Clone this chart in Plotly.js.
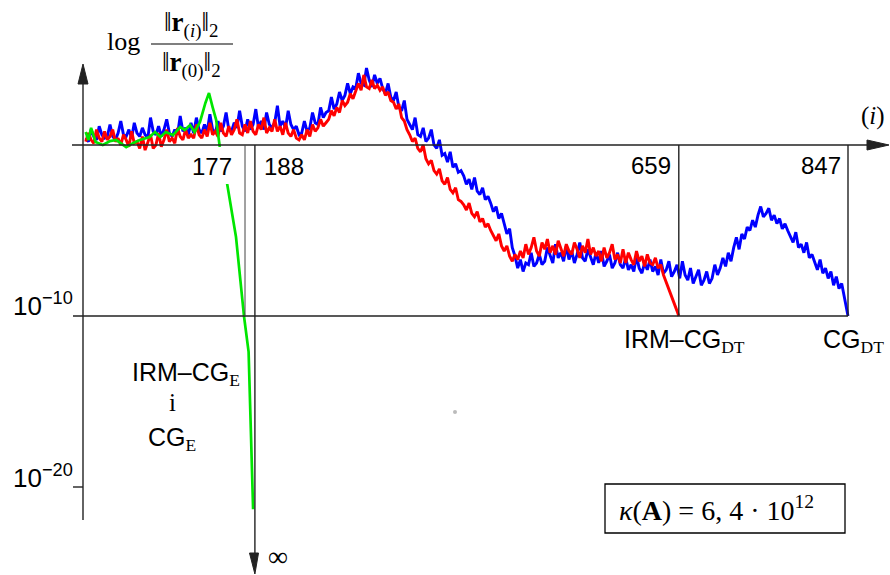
<!DOCTYPE html>
<html><head><meta charset="utf-8">
<script src="https://cdn.plot.ly/plotly-3.0.1.min.js"></script>
<style>body{margin:0;background:#fff}#chart{width:890px;height:575px}</style>
</head><body><div id="chart"></div>
<script>
// ---- data: log10 of relative residual, sampled every 3 iterations ----
const sampleStep = 3;
const blueName = "CG_DT";
const blueLog = [
 0.4, 0.2, 0.9, 0.5, 0.3, 1.1, 0.6, 0.4, 0.5, 1.2,
 0.5, 0.3, 0.7, 1.4, 0.6, 0.5, 0.9, 0.4, 1.3, 0.7,
 0.5, 1.0, 0.6, 0.4, 1.6, 0.8, 0.6, 1.1, 0.5, 0.9,
 1.5, 0.7, 0.5, 0.9, 0.6, 1.7, 0.8, 1.0, 0.6, 1.3,
 0.7, 1.6, 0.9, 0.7, 1.2, 0.8, 1.8, 0.9, 0.7, 1.4,
 0.8, 1.1, 1.9, 0.9, 0.8, 1.3, 1.0, 2.0, 1.1, 0.8,
 1.5, 0.9, 1.2, 2.1, 1.0, 1.4, 0.9, 1.9, 1.2, 1.0,
 1.3, 2.3, 1.1, 1.4, 1.0, 2.0, 1.2, 0.9, 1.1, 0.6,
 0.7, 1.4, 0.8, 1.0, 1.9, 1.3, 1.2, 2.2, 1.6, 1.9,
 2.0, 2.8, 2.1, 2.4, 3.1, 2.6, 2.9, 3.6, 3.0, 3.4,
 3.3, 4.2, 3.6, 3.5, 4.5, 3.8, 3.4, 4.1, 3.6, 3.9,
 3.3, 3.0, 3.6, 2.8, 2.6, 3.1, 2.2, 2.0, 2.6, 1.5,
 1.2, 0.9, 1.6, 0.6, 0.5, 1.0, 0.2, 0.4, 0.9, 0.0,
 -0.2, 0.3, -0.6, -0.5, -1.0, -0.4, -1.3, -1.1, -1.6, -1.5,
 -1.8, -2.3, -2.0, -2.6, -1.9, -2.7, -2.9, -2.5, -3.2, -3.0,
 -3.4, -3.9, -3.6, -4.3, -4.0, -4.6, -5.2, -4.9, -6.0, -6.5,
 -7.2, -6.7, -7.4, -6.9, -7.0, -6.3, -7.1, -6.9, -6.4, -7.0,
 -6.8, -6.0, -6.5, -6.9, -5.8, -6.6, -6.3, -6.8, -5.9, -6.7,
 -6.2, -6.9, -6.4, -5.7, -6.6, -6.8, -6.1, -6.5, -7.0, -6.3,
 -6.9, -6.2, -7.1, -6.8, -6.4, -7.2, -6.9, -6.3, -7.0, -7.2,
 -6.6, -7.3, -7.0, -7.4, -6.5, -7.2, -7.5, -6.9, -7.3, -6.7,
 -7.4, -7.1, -7.6, -6.7, -7.5, -7.3, -6.8, -7.7, -7.4, -7.0,
 -7.8, -6.8, -7.6, -7.9, -7.2, -8.1, -7.7, -7.3, -8.2, -7.9,
 -7.4, -8.1, -7.8, -7.0, -7.6, -7.2, -6.6, -7.1, -6.3, -6.8,
 -6.0, -5.4, -6.1, -5.2, -5.5, -4.8, -5.0, -4.4, -4.8, -4.1,
 -3.6, -4.2, -4.0, -3.7, -4.4, -4.1, -4.6, -4.3, -4.9, -4.6,
 -5.0, -5.4, -5.7, -5.1, -6.0, -5.8, -6.3, -5.7, -6.6, -6.4,
 -6.8, -7.3, -6.7, -7.5, -7.2, -7.8, -7.4, -8.2, -7.7, -8.4,
 -8.1, -8.9
];
const blueLastIter = 847, blueLastLog = -10.0;

const redName = "IRM-CG_DT";
const redLog = [
 0.2, 0.7, 0.3, 0.1, 0.9, 0.4, 0.2, 0.8, 0.3, 0.5,
 0.9, 0.2, 0.4, 0.0, 0.6, 0.3, -0.1, 0.8, 0.1, 0.2,
 -0.2, 0.5, -0.3, 0.1, 0.6, -0.2, 0.0, 0.7, -0.1, 0.3,
 0.9, 0.2, 0.4, 0.1, 1.0, 0.5, 0.3, 0.9, 0.4, 0.6,
 0.4, 1.2, 0.6, 0.4, 0.9, 0.5, 1.3, 0.6, 0.8, 0.5,
 1.3, 0.7, 0.5, 1.1, 0.6, 0.9, 1.5, 0.7, 0.6, 1.2,
 0.7, 1.4, 0.8, 0.6, 1.2, 0.9, 1.6, 0.7, 1.0, 0.8,
 1.5, 0.8, 1.1, 0.6, 1.3, 0.7, 0.5, 0.9, 0.4, 0.3,
 0.6, 0.3, 0.9, 0.5, 1.2, 0.8, 1.0, 1.5, 1.1, 1.3,
 1.5, 2.0, 1.7, 2.2, 1.9, 2.6, 2.3, 2.5, 3.0, 2.7,
 3.1, 3.6, 3.2, 4.1, 3.4, 3.3, 3.8, 3.3, 3.5, 3.2,
 3.4, 2.9, 3.1, 2.6, 2.5, 2.1, 2.4, 1.6, 1.4, 0.9,
 0.6, 0.2, 0.4, -0.2, -0.4, 0.0, -0.8, -1.1, -0.9, -1.5,
 -1.7, -1.4, -2.1, -2.3, -1.9, -2.6, -2.8, -2.5, -3.2, -3.3,
 -3.5, -3.8, -3.4, -4.0, -4.2, -3.9, -4.5, -4.3, -4.8, -4.6,
 -5.0, -5.3, -5.6, -5.2, -5.9, -6.2, -5.9, -6.5, -6.8, -6.4,
 -6.7, -6.2, -6.6, -5.8, -6.4, -6.0, -5.4, -6.2, -6.5, -5.7,
 -6.1, -5.5, -6.3, -5.9, -6.4, -5.6, -6.0, -6.5, -5.8, -6.2,
 -6.4, -5.7, -6.1, -6.6, -5.9, -6.3, -5.5, -6.4, -6.0, -6.5,
 -6.2, -6.8, -6.0, -6.6, -6.3, -5.8, -6.7, -6.4, -6.9, -6.1,
 -6.9, -6.3, -6.7, -7.0, -6.2, -6.8, -6.5, -7.1, -6.4, -6.9,
 -7.0, -6.6, -7.2, -7.0, -7.6, -8.0, -8.4, -8.8, -9.2, -9.7
];
const redLastIter = 659, redLastLog = -10.0;

const greenName = "IRM-CG_E / CG_E";
const greenIter = [0, 3, 6, 11, 19, 27, 34, 45, 53, 60, 71, 77, 83, 89, 97, 105, 110, 116, 121, 127, 133, 137, 141, 145, 149, 157, 167, 176, 181, 186];
const greenLog  = [0.76, 0.29, 1.0, 0.18, 0.0, 0.23, 0.29, -0.12, 0.12, 0.29, 0.47, 0.76, 0.47, 0.76, 0.58, 1.05, 0.88, 1.17, 0.76, 1.35, 2.46, 3.04, 2.22, 1.46, -0.12, -2.22, -5.38, -10.06, -12.1, -21.3];

const markIters = [177, 188, 659, 847];
const markLabels = ["177", "188", "659", "847"];
const yTickLogs = [-10, -20];
const yTickLabels = ["10<sup>−10</sup>", "10<sup>−20</sup>"];

// ---- build series ----
function series(vals, lastIter, lastVal) {
  const x = vals.map((_, k) => k * sampleStep);
  x.push(lastIter);
  return {x: x, y: vals.concat([lastVal])};
}
const blue = series(blueLog, blueLastIter, blueLastLog);
const red = series(redLog, redLastIter, redLastLog);

const traces = [
  {x: blue.x, y: blue.y, name: blueName, type: "scatter", mode: "lines",
   line: {color: "#0000ff", width: 2.9}},
  {x: red.x, y: red.y, name: redName, type: "scatter", mode: "lines",
   line: {color: "#ff0000", width: 2.9}},
  {x: greenIter, y: greenLog, name: greenName, type: "scatter", mode: "lines",
   line: {color: "#00e600", width: 2.7}}
];

// ---- layout geometry (pixels -> axis coordinates) ----
const W = 890, H = 575;
const X0PX = 85.7, PXPERIT = 0.9, Y0PX = 145, PXPERDEC = 17.1;
const xr = [(0 - X0PX) / PXPERIT, (W - X0PX) / PXPERIT];
const yr = [(Y0PX - H) / PXPERDEC, Y0PX / PXPERDEC];
const itOf = px => (px - X0PX) / PXPERIT;
const decOf = py => (Y0PX - py) / PXPERDEC;
const PX = x => x / W, PY = y => 1 - y / H;

const AX = "#222";
const shapes = [];
function dline(x0, y0, x1, y1, color, width) {
  shapes.push({type: "line", xref: "x", yref: "y", x0: x0, y0: y0, x1: x1, y1: y1,
    line: {color: color || AX, width: width || 1.4}, layer: "above"});
}
function tri(pts) {
  shapes.push({type: "path", xref: "x", yref: "y", layer: "above",
    path: "M" + pts.map(p => p[0] + "," + p[1]).join(" L") + " Z",
    fillcolor: AX, line: {color: AX, width: 1}});
}
// white label box behind "177"
shapes.push({type: "rect", xref: "paper", yref: "paper", x0: PX(188), x1: PX(244), y0: PY(184), y1: PY(147),
  fillcolor: "#ffffff", line: {width: 0}, layer: "above"});

const yAxX = itOf(83);
// vertical axis
dline(yAxX, decOf(520), yAxX, decOf(80));
tri([[itOf(78), decOf(84)], [yAxX, decOf(64)], [itOf(88), decOf(84)]]);
// horizontal axis
dline(itOf(72), 0, itOf(870), 0);
tri([[itOf(867), decOf(140)], [itOf(889), 0], [itOf(867), decOf(150)]]);
// 10^-10 line and 10^-20 tick
dline(itOf(73), yTickLogs[0], markIters[3], yTickLogs[0]);
dline(itOf(73), yTickLogs[1], yAxX, yTickLogs[1]);
// iteration markers
dline(markIters[0], 0, markIters[0], -10, "#444", 1);
dline(markIters[1], 0, markIters[1], decOf(556));
tri([[itOf(249.5), decOf(553)], [markIters[1], decOf(574)], [itOf(258.5), decOf(553)]]);
dline(markIters[2], 0, markIters[2], -10);
dline(markIters[3], 0, markIters[3], -10);
// fraction bar
shapes.push({type: "line", xref: "paper", yref: "paper", x0: PX(151), x1: PX(233), y0: PY(44), y1: PY(44),
  line: {color: "#000", width: 1.2}});
// kappa box
shapes.push({type: "rect", xref: "paper", yref: "paper", x0: PX(605), x1: PX(845), y0: PY(533), y1: PY(484),
  line: {color: "#000", width: 1.3}, fillcolor: "rgba(0,0,0,0)"});
// tiny grey speck
shapes.push({type: "circle", xref: "paper", yref: "paper", x0: PX(453), x1: PX(457), y0: PY(414), y1: PY(410),
  fillcolor: "#bbb", line: {width: 0}});

const SANS = "Liberation Sans, Arial, sans-serif";
const SERIF = "Liberation Serif, Times New Roman, serif";
const ann = [];
function T(text, x, y, xa, size, fam) {
  ann.push({text: text, xref: "paper", yref: "paper", x: PX(x), y: PY(y), xanchor: xa || "center",
    yanchor: "middle", showarrow: false, font: {family: fam || SANS, size: size || 24, color: "#000"}});
}
const ser = s => "<span style='font-family:Liberation Serif, serif'>" + s + "</span>";

T("log", 124, 42, "center", 26, SERIF);
T("‖<b>r</b><sub>(<i>i</i>)</sub>‖<sub>2</sub>", 191, 24, "center", 27, SERIF);
T("‖<b>r</b><sub>(0)</sub>‖<sub>2</sub>", 191, 64, "center", 27, SERIF);
T("(<i>i</i>)", 873, 116, "center", 25, SERIF);

T(markLabels[0], 234, 166, "right", 24);
T(markLabels[1], 262, 166, "left", 24);
T(markLabels[2], 673, 165, "right", 24);
T(markLabels[3], 843, 165, "right", 24);

T(yTickLabels[0], 75, 304, "right", 26);
T(yTickLabels[1], 75, 476, "right", 26);

T("IRM–CG<sub>" + ser("E") + "</sub>", 186, 374, "center", 25);
T("i", 172, 402, "center", 25, SERIF);
T("CG<sub>" + ser("E") + "</sub>", 172, 439, "center", 25);
T("IRM–CG<sub>" + ser("DT") + "</sub>", 684, 341, "center", 25);
T("CG<sub>" + ser("DT") + "</sub>", 853, 341, "center", 25);
T("∞", 278, 556, "center", 28, SERIF);
T("<i>κ</i>(<b>A</b>) = 6, 4 · 10<sup>12</sup>", 716, 508, "center", 28, SERIF);

const layout = {
  width: W, height: H, margin: {l: 0, r: 0, t: 0, b: 0},
  paper_bgcolor: "#fff", plot_bgcolor: "#fff", showlegend: false,
  xaxis: {range: xr, visible: false, fixedrange: true},
  yaxis: {range: yr, visible: false, fixedrange: true},
  shapes: shapes, annotations: ann
};
Plotly.newPlot("chart", traces, layout, {displayModeBar: false, staticPlot: true});
</script></body></html>
